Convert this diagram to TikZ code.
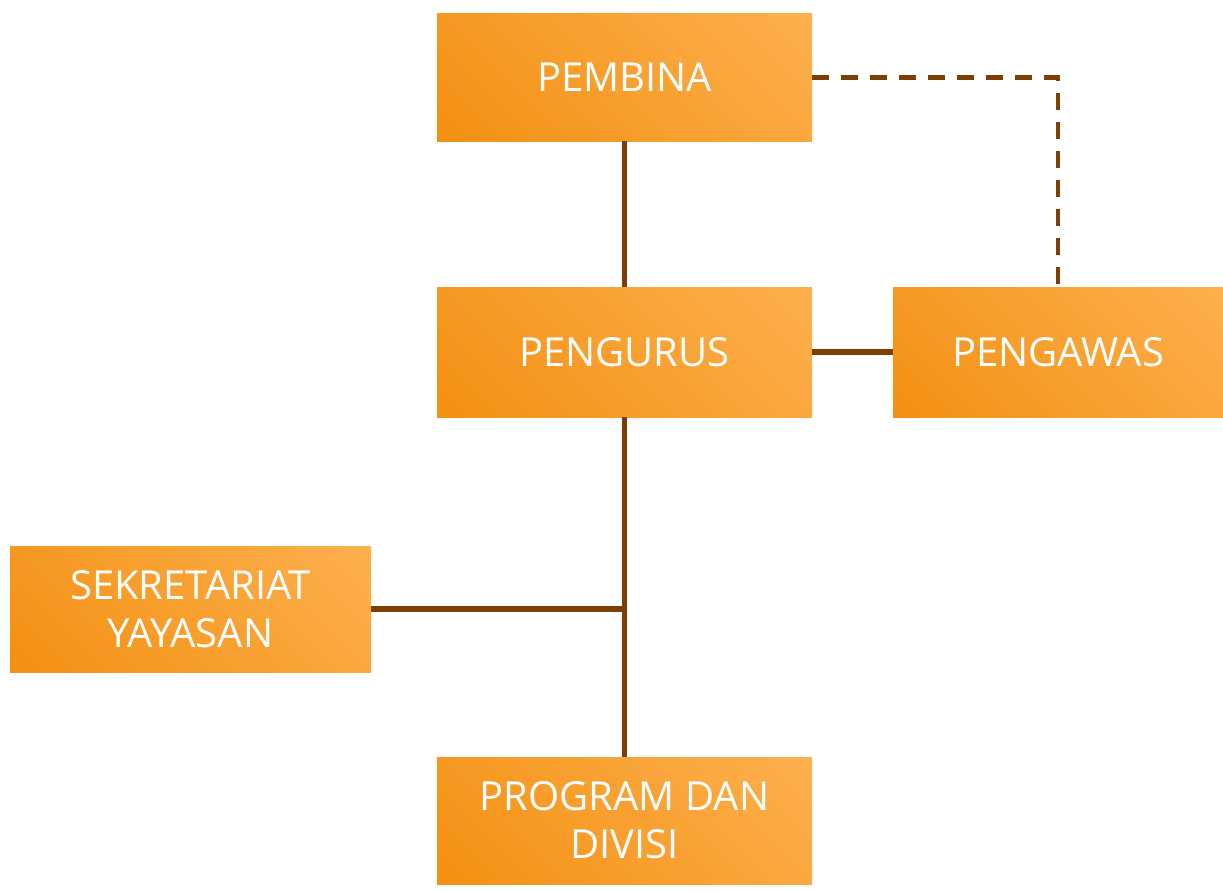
\documentclass[tikz,border=0pt]{standalone}
\usepackage{fontspec}
\setmainfont{Open Sans}
\definecolor{linebrown}{RGB}{122,64,4}
\definecolor{orgdark}{RGB}{243,144,18}
\definecolor{orglight}{RGB}{253,176,78}
\pgfdeclareverticalshading{orgshade}{100bp}{color(0bp)=(orgdark); color(15bp)=(orgdark); color(85bp)=(orglight); color(100bp)=(orglight)}
\begin{document}
\begin{tikzpicture}[x=1pt,y=-1pt,
  box/.style={rectangle, inner sep=0pt, align=center, text=white,
    font=\fontsize{40}{48}\selectfont,
    shading=orgshade, shading angle=-45},
  link/.style={draw=linebrown, line width=5.5pt},
  dlink/.style={draw=linebrown, line width=4.5pt, dash pattern=on 17pt off 12pt}]
\useasboundingbox (0,0) rectangle (1223,891);
\node[box, minimum width=375pt, minimum height=127pt] (pembina) at (624.5,77.5) {PEMBINA};
\node[box, minimum width=375pt, minimum height=130pt] (pengurus) at (624.5,352) {PENGURUS};
\node[box, minimum width=330pt, minimum height=130pt] (pengawas) at (1058,352) {PENGAWAS};
\node[box, minimum width=361pt, minimum height=126pt] (sekretariat) at (190.5,609) {SEKRETARIAT\\YAYASAN};
\node[box, minimum width=375pt, minimum height=127pt] (program) at (624.5,820.5) {PROGRAM DAN\\DIVISI};
\coordinate (junction) at (624.5,609);
\draw[link] (pembina.south) -- (pengurus.north);
\draw[link] (pengurus.east) -- (pengawas.west);
\draw[link] (pengurus.south) -- (program.north);
\draw[link] (sekretariat.east) -- (junction);
\draw[dlink] (pembina.east) -| (pengawas.north);
\end{tikzpicture}
\end{document}
